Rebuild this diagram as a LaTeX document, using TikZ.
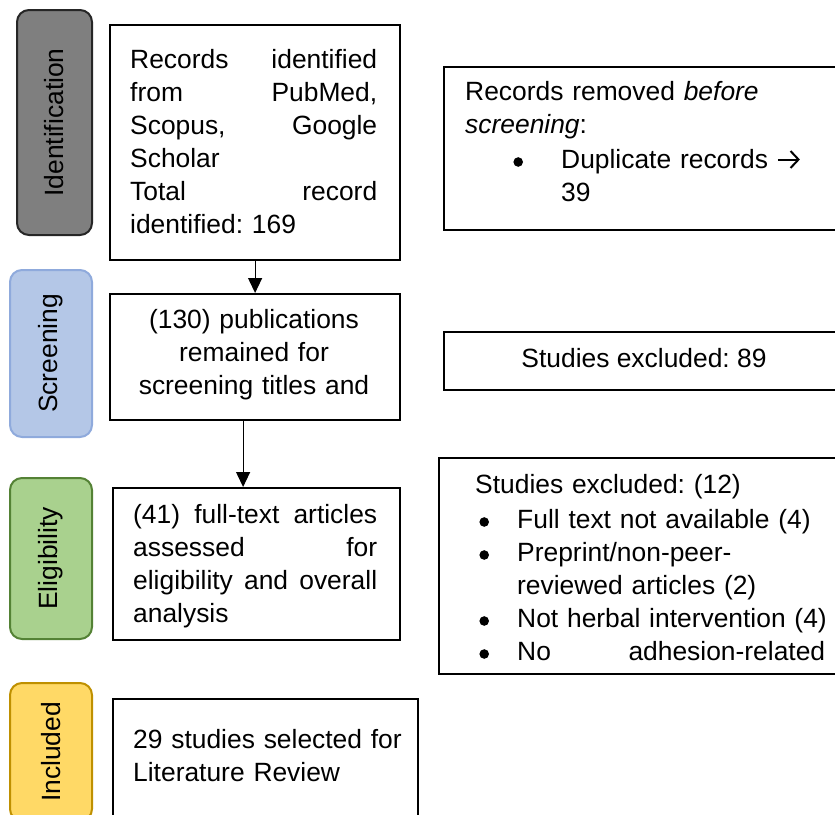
\documentclass[tikz,border=0pt]{standalone}
\usepackage{fontspec}
\setmainfont{Liberation Sans}
\usetikzlibrary{arrows.meta}
\definecolor{idfill}{HTML}{7F7F7F}
\definecolor{iddraw}{HTML}{262626}
\definecolor{scfill}{HTML}{B4C7E7}
\definecolor{scdraw}{HTML}{8FAADC}
\definecolor{elfill}{HTML}{A9D18E}
\definecolor{eldraw}{HTML}{548235}
\definecolor{infill}{HTML}{FFD966}
\definecolor{indraw}{HTML}{BF9000}
\newcommand\myfs{\fontsize{26.4pt}{33pt}\selectfont}
\newcommand\mybul{\makebox[9.2pt]{\tikz[baseline={(0pt,-6pt)}]\fill (0pt,0pt) circle (4.8pt);}}
\newcommand\myarr{\tikz[baseline={(0pt,0pt)}]\draw[line width=2pt, -{Straight Barb[length=8pt,width=17pt]}] (0pt,8.5pt) -- (22pt,8.5pt);}
\frenchspacing
\begin{document}
\begin{tikzpicture}[x=1pt,y=-1pt,
  box/.style={draw, line width=2.2pt, inner sep=0pt, anchor=north west},
  txt/.style={inner sep=0pt, anchor=base west, align=left, font=\myfs},
  ctxt/.style={inner sep=0pt, anchor=base, align=center, font=\myfs},
  pill/.style={rectangle, rounded corners=12pt, line width=2pt, rotate=90, minimum height=82pt, inner sep=0pt, font=\myfs},
  arr/.style={line width=1.2pt, -{Triangle[width=14pt,length=15pt]}}]
\useasboundingbox (0,0) rectangle (835,814);
\clip (0,0) rectangle (835,814);

% stage pills
\node[pill, fill=idfill, draw=iddraw, minimum width=225pt, minimum height=75pt] (pid) at (54.5,122.5) {Identification};
\node[pill, fill=scfill, draw=scdraw, minimum width=167pt] (psc) at (51,353.5) {Screening};
\node[pill, fill=elfill, draw=eldraw, minimum width=161pt] (pel) at (51,558.5) {Eligibility};
\node[pill, fill=infill, draw=indraw, minimum width=138pt] (pin) at (51,752) {Included};

% main boxes
\node[box, minimum width=290pt, minimum height=235pt] (b1) at (109,24) {};
\node[box, minimum width=290pt, minimum height=126pt] (b2) at (109,293) {};
\node[box, minimum width=287pt, minimum height=152pt] (b3) at (112,487) {};
\node[box, minimum width=305pt, minimum height=140pt] (b4) at (112,698) {};

% side boxes
\node[box, minimum width=420pt, minimum height=163pt] (r1) at (443,66) {};
\node[box, minimum width=420pt, minimum height=58pt] (r2) at (443,331) {};
\node[box, minimum width=420pt, minimum height=216pt] (r3) at (438,457) {};

% texts
\node[txt, text width=247pt] (t1) at (130,68)
  {Records\hfill identified\\ from\hfill PubMed,\\ Scopus,\hfill Google\\ Scholar\\ Total\hfill record\\ identified: 169};
\node[ctxt, text width=290pt] (t2) at (254,328)
  {(130) publications\\ remained for\\ screening titles and};
\node[txt, text width=244pt] (t3) at (133,523)
  {(41)\hfill full-text\hfill articles\\ assessed\hfill for\\ eligibility\hfill and\hfill overall\\ analysis};
\node[txt, text width=280pt] (t4) at (133,748)
  {29 studies selected for\\ Literature Review};

\node[txt, text width=380pt] (tr1) at (465,100)
  {Records removed \textit{before}\\ \textit{screening}:\\[2pt]
   \hspace*{48.4pt}\mybul\hspace*{38.4pt}Duplicate records \myarr\\
   \hspace*{96pt}39};
\node[ctxt] (tr2) at (644,367) {Studies excluded: 89};
\node[txt, text width=380pt] (tr3) at (475,493)
  {Studies excluded: (12)\\[2pt]
   \hspace*{4.4pt}\mybul\hspace*{28.4pt}Full text not available (4)\\
   \hspace*{4.4pt}\mybul\hspace*{28.4pt}Preprint/non-peer-\\
   \hspace*{42pt}reviewed articles (2)\\
   \hspace*{4.4pt}\mybul\hspace*{28.4pt}Not herbal intervention (4)\\
   \hspace*{4.4pt}\mybul\hspace*{28.4pt}\makebox[308pt][l]{No\hfill adhesion-related}};

% connectors
\draw[arr] (b1.south) -- (b2.north);
\draw[arr] ([xshift=-12pt]b2.south) -- ([xshift=-12pt]b2.south |- b3.north);
\end{tikzpicture}
\end{document}
